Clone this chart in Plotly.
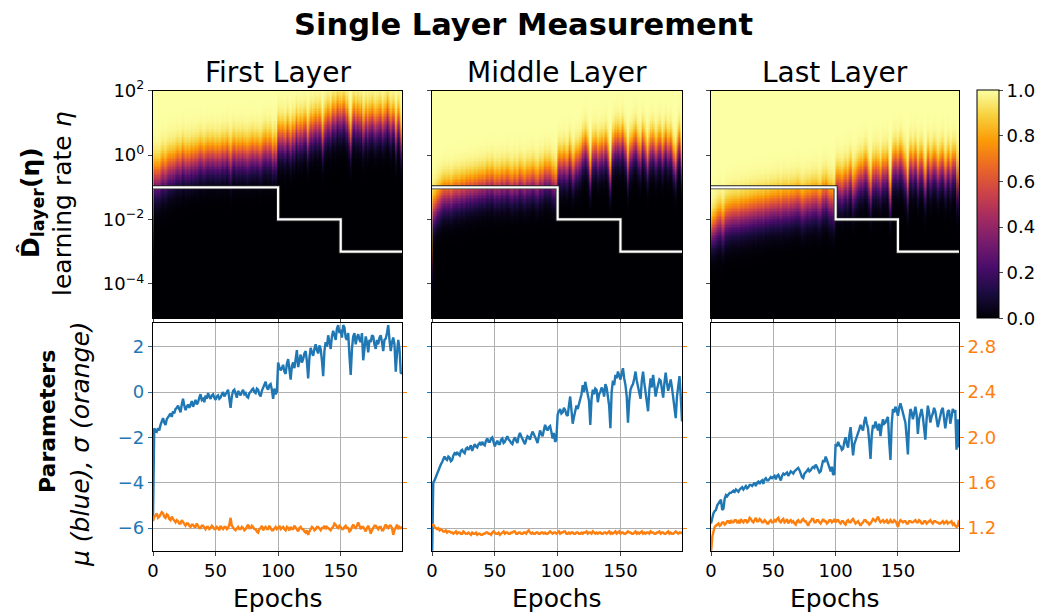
import math
import plotly.graph_objects as go

# ---------------------------------------------------------------- data
epochs = list(range(200))

# learning-rate schedule (step decay)
schedule_epochs = [0, 100, 150, 199]
schedule_lr = [1e-1, 1e-2, 1e-3, 1e-3]

layer_names = ["First Layer", "Middle Layer", "Last Layer"]

mu_first = [
    -5.6, -1.6, -1.7, -1.75, -1.6, -1.7, -1.45, -1.3, -1.15, -1.35,
    -1.45, -1.2, -1.1, -1.0, -0.95, -1.1, -0.85, -0.95, -0.75, -0.7,
    -0.6, -0.75, -0.9, -0.55, -0.3, -0.6, -0.8, -0.65, -0.55, -0.7,
    -0.5, -0.4, -0.65, -0.5, -0.35, -0.55, -0.45, -0.25, -0.1, -0.35,
    -0.3, -0.45, -0.15, -0.3, -0.05, -0.2, -0.3, -0.15, -0.1, -0.25,
    -0.35, -0.2, -0.15, -0.3, -0.25, -0.1, 0.0, -0.2, -0.1, 0.05,
    0.1, -0.3, -0.7, -0.2, 0.05, 0.1, -0.1, -0.25, 0.05, -0.05,
    -0.15, 0.0, 0.1, -0.1, -0.05, -0.2, -0.25, -0.05, 0.0, 0.1,
    0.15, 0.0, -0.05, 0.15, 0.1, -0.1, -0.2, 0.05, 0.2, 0.3,
    0.45, 0.2, 0.1, 0.3, 0.35, 0.1, -0.3, 0.15, -0.1, 0.0,
    1.3, 1.1, 0.95, 1.05, 1.2, 0.9, 0.8, 1.25, 1.45, 1.0,
    0.55, 1.15, 1.3, 1.05, 1.5, 1.85, 1.1, 1.4, 1.65, 1.3,
    1.45, 1.7, 1.8, 1.35, 0.6, 1.5, 1.95, 1.75, 1.6, 1.9,
    2.1, 1.85, 1.7, 2.05, 1.9, 1.4, 0.7, 1.8, 2.2, 2.0,
    2.5, 2.2, 1.9, 2.45, 2.7, 2.5, 2.3, 2.8, 2.95, 2.6,
    2.75, 2.4, 2.95, 2.85, 2.4, 2.3, 2.6, 1.6, 0.75, 1.9,
    2.45, 2.6, 2.1, 2.4, 2.55, 2.3, 2.2, 2.6, 1.4, 1.9,
    2.45, 2.2, 1.75, 2.3, 2.2, 2.5, 2.45, 2.1, 1.9, 2.3,
    2.1, 2.4, 2.5, 2.2, 1.8, 2.3, 2.35, 2.6, 2.95, 2.3,
    1.8, 2.2, 2.4, 2.1, 0.9, 1.7, 2.3, 1.9, 0.85, 0.8,
]
sigma_first = [
    1.26, 1.30, 1.31, 1.33, 1.29, 1.30, 1.32, 1.34, 1.33, 1.30,
    1.29, 1.32, 1.31, 1.28, 1.27, 1.30, 1.28, 1.26, 1.25, 1.27,
    1.26, 1.24, 1.24, 1.27, 1.25, 1.23, 1.22, 1.24, 1.24, 1.22,
    1.21, 1.23, 1.23, 1.21, 1.21, 1.24, 1.22, 1.20, 1.20, 1.22,
    1.22, 1.20, 1.19, 1.21, 1.21, 1.19, 1.20, 1.22, 1.21, 1.19,
    1.19, 1.21, 1.20, 1.18, 1.22, 1.20, 1.19, 1.21, 1.21, 1.19,
    1.20, 1.23, 1.29, 1.22, 1.20, 1.19, 1.18, 1.20, 1.21, 1.19,
    1.19, 1.21, 1.20, 1.18, 1.19, 1.21, 1.23, 1.20, 1.20, 1.22,
    1.21, 1.19, 1.19, 1.17, 1.16, 1.19, 1.20, 1.22, 1.18, 1.20,
    1.21, 1.19, 1.19, 1.22, 1.20, 1.18, 1.18, 1.20, 1.21, 1.19,
    1.20, 1.22, 1.19, 1.20, 1.21, 1.19, 1.18, 1.21, 1.20, 1.18,
    1.21, 1.19, 1.19, 1.22, 1.20, 1.18, 1.17, 1.20, 1.21, 1.19,
    1.19, 1.17, 1.16, 1.18, 1.14, 1.17, 1.19, 1.21, 1.20, 1.18,
    1.19, 1.21, 1.21, 1.19, 1.18, 1.20, 1.20, 1.22, 1.19, 1.21,
    1.20, 1.19, 1.18, 1.20, 1.21, 1.24, 1.23, 1.21, 1.20, 1.22,
    1.21, 1.19, 1.19, 1.21, 1.22, 1.20, 1.20, 1.17, 1.18, 1.21,
    1.23, 1.21, 1.20, 1.22, 1.25, 1.22, 1.19, 1.21, 1.21, 1.19,
    1.17, 1.20, 1.22, 1.19, 1.15, 1.18, 1.20, 1.22, 1.22, 1.20,
    1.19, 1.21, 1.21, 1.18, 1.18, 1.21, 1.23, 1.21, 1.20, 1.22,
    1.22, 1.20, 1.14, 1.18, 1.21, 1.23, 1.19, 1.21, 1.20, 1.21,
]
mu_middle = [
    -7.6, -4.0, -3.9, -3.75, -3.6, -3.45, -3.3, -3.2, -3.1, -2.95,
    -2.85, -2.95, -3.0, -2.85, -2.9, -3.05, -3.0, -2.8, -2.7, -2.75,
    -2.65, -2.75, -2.8, -2.6, -2.55, -2.65, -2.7, -2.5, -2.45, -2.55,
    -2.45, -2.35, -2.6, -2.45, -2.3, -2.4, -2.45, -2.3, -2.25, -2.35,
    -2.2, -2.3, -2.35, -2.15, -2.05, -2.2, -2.2, -2.05, -2.0, -2.2,
    -2.4, -2.25, -2.15, -2.3, -2.3, -2.1, -2.05, -2.25, -2.2, -2.05,
    -1.95, -2.1, -2.15, -2.25, -2.3, -2.1, -2.0, -2.15, -2.25, -1.95,
    -1.8, -1.95, -2.05, -2.2, -2.3, -2.1, -1.95, -2.0, -2.1, -1.9,
    -1.75, -1.85, -1.95, -2.1, -2.25, -2.0, -1.7, -1.85, -1.95, -1.7,
    -1.45, -1.6, -1.7, -1.55, -1.5, -1.75, -2.05, -1.8, -2.2, -2.1,
    -1.0, -0.85, -0.75, -0.95, -0.9, -0.7, -0.8, -1.0, -1.05, -0.6,
    -0.2, -0.8, -1.4, -1.1, -0.9, -0.6, -0.75, -0.5, -0.4, -0.1,
    0.3, 0.0, 0.45, 0.2, -0.1, -0.4, -1.45, -0.3, 0.1, -0.1,
    0.15, 0.1, -0.45, -0.1, 0.0, 0.2, 0.1, -0.2, 0.35, 0.2,
    -0.2, -0.6, -1.6, 0.0, 0.5, 0.3, 0.75, 0.6, 0.9, 0.7,
    0.55, 0.8, 1.05, 0.6, 0.3, -0.2, -1.35, -0.4, 0.1, 0.25,
    0.35, 0.6, 0.9, 0.5, 0.2, 0.0, -0.3, 0.5, 0.9, 0.4,
    0.0, -0.3, -0.85, 0.1, 0.6, 0.2, 0.75, 0.3, -0.2, 0.1,
    0.3, 0.55, 0.5, 0.1, -0.25, 0.4, 0.85, 0.4, 0.05, 0.3,
    0.55, 0.2, -0.3, -0.6, -1.15, -0.2, 0.15, 0.7, -0.2, -1.3,
]
sigma_middle = [
    1.22, 1.23, 1.21, 1.20, 1.19, 1.20, 1.18, 1.19, 1.18, 1.17,
    1.17, 1.18, 1.16, 1.17, 1.17, 1.16, 1.16, 1.15, 1.16, 1.17,
    1.15, 1.16, 1.16, 1.15, 1.15, 1.17, 1.16, 1.15, 1.15, 1.16,
    1.15, 1.14, 1.16, 1.15, 1.15, 1.16, 1.14, 1.15, 1.15, 1.14,
    1.14, 1.15, 1.15, 1.16, 1.16, 1.15, 1.15, 1.14, 1.16, 1.17,
    1.16, 1.15, 1.15, 1.16, 1.14, 1.15, 1.16, 1.17, 1.15, 1.16,
    1.16, 1.15, 1.15, 1.16, 1.16, 1.17, 1.17, 1.15, 1.15, 1.16,
    1.16, 1.15, 1.15, 1.16, 1.16, 1.15, 1.17, 1.18, 1.16, 1.15,
    1.16, 1.15, 1.15, 1.16, 1.16, 1.15, 1.15, 1.16, 1.16, 1.15,
    1.16, 1.15, 1.15, 1.16, 1.17, 1.16, 1.15, 1.16, 1.16, 1.15,
    1.16, 1.17, 1.15, 1.16, 1.16, 1.17, 1.17, 1.15, 1.15, 1.16,
    1.15, 1.16, 1.16, 1.15, 1.15, 1.16, 1.16, 1.15, 1.15, 1.16,
    1.15, 1.16, 1.16, 1.17, 1.15, 1.16, 1.16, 1.15, 1.17, 1.16,
    1.15, 1.16, 1.15, 1.16, 1.16, 1.15, 1.15, 1.16, 1.16, 1.15,
    1.16, 1.17, 1.15, 1.16, 1.15, 1.16, 1.17, 1.15, 1.16, 1.17,
    1.15, 1.16, 1.16, 1.15, 1.15, 1.16, 1.17, 1.16, 1.16, 1.15,
    1.15, 1.16, 1.17, 1.15, 1.16, 1.15, 1.16, 1.17, 1.15, 1.16,
    1.15, 1.16, 1.16, 1.15, 1.17, 1.16, 1.16, 1.15, 1.15, 1.16,
    1.16, 1.17, 1.15, 1.16, 1.16, 1.15, 1.15, 1.16, 1.17, 1.15,
    1.16, 1.15, 1.15, 1.16, 1.17, 1.16, 1.15, 1.16, 1.16, 1.15,
]
mu_last = [
    -5.8, -5.5, -5.35, -5.25, -5.2, -5.0, -4.9, -4.8, -4.75, -5.2,
    -5.15, -4.7, -4.55, -4.6, -4.5, -4.45, -4.45, -4.4, -4.35, -4.4,
    -4.3, -4.35, -4.4, -4.3, -4.25, -4.2, -4.3, -4.2, -4.15, -4.25,
    -4.2, -4.1, -4.1, -4.15, -4.05, -4.0, -4.15, -4.0, -3.95, -4.05,
    -3.95, -3.9, -4.05, -3.85, -3.8, -3.9, -3.9, -3.8, -3.75, -3.8,
    -3.75, -3.7, -3.85, -3.7, -3.65, -3.75, -3.9, -3.7, -3.6, -3.65,
    -3.6, -3.55, -3.7, -3.6, -3.5, -3.55, -3.6, -3.5, -3.45, -3.4,
    -3.35, -3.45, -3.65, -3.75, -3.8, -3.6, -3.55, -3.45, -3.4, -3.5,
    -3.45, -3.35, -3.3, -3.35, -3.2, -3.3, -3.45, -3.55, -3.5, -3.2,
    -3.0, -3.1, -2.85, -3.0, -3.2, -3.35, -3.5, -3.3, -3.65, -3.6,
    -2.3, -2.4, -2.2, -2.35, -2.4, -2.55, -2.5, -2.2, -2.0, -2.3,
    -2.45, -1.9, -1.55, -2.2, -2.8, -2.3, -2.1, -1.95, -1.8, -1.65,
    -1.45, -1.6, -1.7, -1.3, -1.1, -1.4, -1.6, -2.2, -2.95, -1.9,
    -1.45, -1.6, -1.3, -1.5, -1.7, -1.4, -1.95, -1.5, -1.2, -1.4,
    -1.35, -1.2, -1.1, -2.2, -3.0, -1.4, -0.75, -0.9, -0.65, -0.8,
    -1.05, -0.7, -0.5, -0.7, -0.9, -1.1, -1.35, -2.0, -2.75, -1.3,
    -0.75, -0.9, -1.2, -0.95, -0.65, -1.0, -1.85, -1.2, -0.9, -0.75,
    -1.1, -1.6, -2.1, -1.2, -0.6, -0.9, -1.35, -1.1, -0.95, -0.7,
    -0.85, -1.2, -1.55, -1.3, -1.0, -0.8, -0.7, -1.1, -1.6, -1.2,
    -0.85, -0.8, -1.4, -1.1, -0.75, -0.9, -0.8, -2.55, -1.2, -2.45,
]
sigma_last = [
    0.98, 1.12, 1.17, 1.21, 1.22, 1.23, 1.24, 1.22, 1.23, 1.25,
    1.25, 1.23, 1.24, 1.26, 1.26, 1.24, 1.27, 1.25, 1.25, 1.27,
    1.27, 1.25, 1.26, 1.24, 1.28, 1.26, 1.25, 1.27, 1.27, 1.25,
    1.26, 1.29, 1.28, 1.26, 1.25, 1.27, 1.29, 1.26, 1.26, 1.28,
    1.27, 1.25, 1.25, 1.27, 1.26, 1.24, 1.24, 1.26, 1.27, 1.25,
    1.25, 1.27, 1.26, 1.28, 1.29, 1.26, 1.25, 1.27, 1.28, 1.25,
    1.26, 1.28, 1.24, 1.26, 1.27, 1.25, 1.26, 1.24, 1.23, 1.26,
    1.27, 1.25, 1.25, 1.27, 1.28, 1.26, 1.26, 1.24, 1.22, 1.25,
    1.26, 1.28, 1.28, 1.25, 1.25, 1.27, 1.27, 1.25, 1.24, 1.26,
    1.28, 1.26, 1.26, 1.24, 1.25, 1.27, 1.27, 1.25, 1.26, 1.28,
    1.25, 1.27, 1.27, 1.25, 1.24, 1.26, 1.26, 1.24, 1.23, 1.26,
    1.27, 1.25, 1.25, 1.27, 1.28, 1.26, 1.24, 1.25, 1.26, 1.24,
    1.22, 1.24, 1.25, 1.27, 1.27, 1.25, 1.25, 1.23, 1.24, 1.26,
    1.28, 1.27, 1.26, 1.28, 1.30, 1.27, 1.25, 1.26, 1.27, 1.25,
    1.26, 1.27, 1.24, 1.26, 1.27, 1.25, 1.25, 1.27, 1.26, 1.24,
    1.21, 1.25, 1.27, 1.26, 1.25, 1.26, 1.26, 1.24, 1.24, 1.26,
    1.26, 1.25, 1.25, 1.26, 1.27, 1.25, 1.25, 1.27, 1.26, 1.24,
    1.24, 1.26, 1.26, 1.24, 1.25, 1.26, 1.27, 1.25, 1.24, 1.26,
    1.26, 1.25, 1.25, 1.24, 1.24, 1.25, 1.26, 1.24, 1.25, 1.26,
    1.24, 1.25, 1.25, 1.26, 1.23, 1.24, 1.22, 1.21, 1.22, 1.27,
]

mu_layers = [mu_first, mu_middle, mu_last]
sigma_layers = [sigma_first, sigma_middle, sigma_last]

# learning-rate grid (log10 exponents) on which D_layer(eta) is evaluated
log_eta = [round(-5.1 + 0.05 * k, 2) for k in range(143)]
eta = [10 ** v for v in log_eta]

mu_ticks = [-6, -4, -2, 0, 2]
mu_ticktext = ["\u22126", "\u22124", "\u22122", "0", "2"]
sigma_ticks = [1.2, 1.6, 2.0, 2.4, 2.8]
eta_ticks = [1e-4, 1e-2, 1e0, 1e2]
eta_ticktext = ["10<sup>\u22124</sup>", "10<sup>\u22122</sup>", "10<sup>0</sup>", "10<sup>2</sup>"]
epoch_ticks = [0, 50, 100, 150]
cbar_ticks = [0.0, 0.2, 0.4, 0.6, 0.8, 1.0]


def lognormal_cdf(mu, sigma):
    """D(eta) = Phi((ln eta - mu) / sigma) for every epoch column."""
    rows = []
    for v in log_eta:
        ln_eta = v * math.log(10)
        rows.append([0.5 * (1.0 + math.erf((ln_eta - m) / (s * math.sqrt(2.0))))
                     for m, s in zip(mu, sigma)])
    return rows


# ---------------------------------------------------------------- layout geometry
W, H = 1046, 615
BLUE, ORANGE = "#1f77b4", "#ff7f0e"
FONT = "DejaVu Sans"
GRID = "#b0b0b0"

col_px = [(153, 402), (432, 682), (711, 959)]
top_px = (90.7, 318.3)
bot_px = (323.3, 550.7)


def fx(p):
    return p / W


def fy(p):
    return 1 - p / H


fig = go.Figure()

for c in range(3):
    mu, sigma = mu_layers[c], sigma_layers[c]
    xa_top, ya_top = f"x{c + 1}", f"y{c + 1}"
    xa_bot, ya_bot, ya_sig = f"x{c + 4}", f"y{c + 4}", f"y{c + 7}"

    fig.add_trace(go.Heatmap(
        x=epochs, y=eta, z=lognormal_cdf(mu, sigma),
        coloraxis="coloraxis", xaxis=xa_top, yaxis=ya_top, hoverinfo="skip",
    ))
    # learning-rate schedule: dark edge under a white line
    fig.add_trace(go.Scatter(
        x=schedule_epochs, y=schedule_lr, mode="lines", line_shape="hv",
        line=dict(color="#222222", width=4), xaxis=xa_top, yaxis=ya_top,
        showlegend=False, hoverinfo="skip",
    ))
    fig.add_trace(go.Scatter(
        x=schedule_epochs, y=schedule_lr, mode="lines", line_shape="hv",
        line=dict(color="white", width=2.2), xaxis=xa_top, yaxis=ya_top,
        showlegend=False, hoverinfo="skip",
    ))
    fig.add_trace(go.Scatter(
        x=epochs, y=mu, mode="lines", line=dict(color=BLUE, width=2.4),
        xaxis=xa_bot, yaxis=ya_bot, showlegend=False,
    ))
    fig.add_trace(go.Scatter(
        x=epochs, y=sigma, mode="lines", line=dict(color=ORANGE, width=2.4),
        xaxis=xa_bot, yaxis=ya_sig, showlegend=False,
    ))

frame = dict(showline=True, linecolor="black", linewidth=1.2, mirror=True,
             ticks="outside", ticklen=4, tickwidth=1, zeroline=False,
             automargin=False)
tickfont = dict(family=FONT, size=18, color="black")

layout_axes = {}
for c in range(3):
    x0, x1 = col_px[c]
    dom_x = [fx(x0), fx(x1)]
    # heatmap row
    layout_axes[f"xaxis{c + 1}"] = dict(
        domain=dom_x, anchor=f"y{c + 1}", range=[0, 199], tickvals=epoch_ticks,
        showticklabels=False, showgrid=False, **frame)
    layout_axes[f"yaxis{c + 1}"] = dict(
        domain=[fy(top_px[1]), fy(top_px[0])], anchor=f"x{c + 1}", type="log",
        range=[-5.07, 2.0], tickvals=eta_ticks, ticktext=eta_ticktext,
        showticklabels=(c == 0), showgrid=False, tickfont=tickfont, **frame)
    # parameter row
    layout_axes[f"xaxis{c + 4}"] = dict(
        domain=dom_x, anchor=f"y{c + 4}", range=[0, 199], tickvals=epoch_ticks,
        showgrid=True, gridcolor=GRID, gridwidth=1, tickfont=tickfont, **frame)
    layout_axes[f"yaxis{c + 4}"] = dict(
        domain=[fy(bot_px[1]), fy(bot_px[0])], anchor=f"x{c + 4}",
        range=[-7.0, 3.03], tickvals=mu_ticks, ticktext=mu_ticktext,
        showticklabels=(c == 0), showgrid=True, gridcolor=GRID, gridwidth=1,
        tickfont=dict(family=FONT, size=18, color=BLUE), tickcolor=BLUE,
        showline=True, linecolor="black", linewidth=1.2, mirror=True,
        ticks="outside", ticklen=4, tickwidth=1, zeroline=False, automargin=False)
    layout_axes[f"yaxis{c + 7}"] = dict(
        overlaying=f"y{c + 4}", anchor=f"x{c + 4}", side="right",
        range=[1.0, 3.006], tickvals=sigma_ticks, tickformat=".1f",
        showticklabels=(c == 2), showgrid=False, showline=False, zeroline=False,
        ticks="outside", ticklen=4, tickwidth=1, tickcolor=ORANGE, automargin=False,
        tickfont=dict(family=FONT, size=18, color=ORANGE))

annotations = [
    dict(text="<b>Single Layer Measurement</b>", x=fx(523), y=fy(24),
         font=dict(family=FONT, size=30.5, color="black")),
    dict(text="<b>D\u0302<sub>layer</sub>(\u03b7)</b>", x=fx(32), y=fy(203), textangle=-90,
         font=dict(family=FONT, size=25, color="black")),
    dict(text="learning rate <i>\u03b7</i>", x=fx(62), y=fy(204), textangle=-90,
         font=dict(family=FONT, size=25, color="black")),
    dict(text="<b>Parameters</b>", x=fx(47), y=fy(422), textangle=-90,
         font=dict(family=FONT, size=22, color="black")),
    dict(text="<i>\u03bc (blue), \u03c3 (orange)</i>", x=fx(80), y=fy(444), textangle=-90,
         font=dict(family=FONT, size=25, color="black")),
]
for c in range(3):
    xc = fx(sum(col_px[c]) / 2)
    annotations.append(dict(text=layer_names[c], x=xc, y=fy(73),
                            font=dict(family=FONT, size=28, color="black")))
    annotations.append(dict(text="Epochs", x=xc, y=fy(598),
                            font=dict(family=FONT, size=25, color="black")))
for a in annotations:
    a.update(xref="paper", yref="paper", showarrow=False,
             xanchor="center", yanchor="middle")

fig.update_layout(
    width=W, height=H, autosize=False,
    margin=dict(l=0, r=0, t=0, b=0, autoexpand=False),
    paper_bgcolor="white", plot_bgcolor="white",
    font=dict(family=FONT, size=18, color="black"),
    showlegend=False,
    annotations=annotations,
    coloraxis=dict(
        colorscale="Inferno", cmin=0, cmax=1,
        colorbar=dict(
            x=fx(977), xanchor="left", xref="paper", xpad=0,
            y=fy(top_px[1]), yanchor="bottom", yref="paper", ypad=0,
            len=(top_px[1] - top_px[0]) / H, lenmode="fraction",
            thickness=22, thicknessmode="pixels",
            outlinewidth=1, outlinecolor="black",
            ticks="outside", ticklen=4, tickwidth=1,
            tickvals=cbar_ticks, tickformat=".1f",
            tickfont=dict(family=FONT, size=18, color="black"),
        ),
    ),
    **layout_axes,
)

fig.write_html("out.html")
